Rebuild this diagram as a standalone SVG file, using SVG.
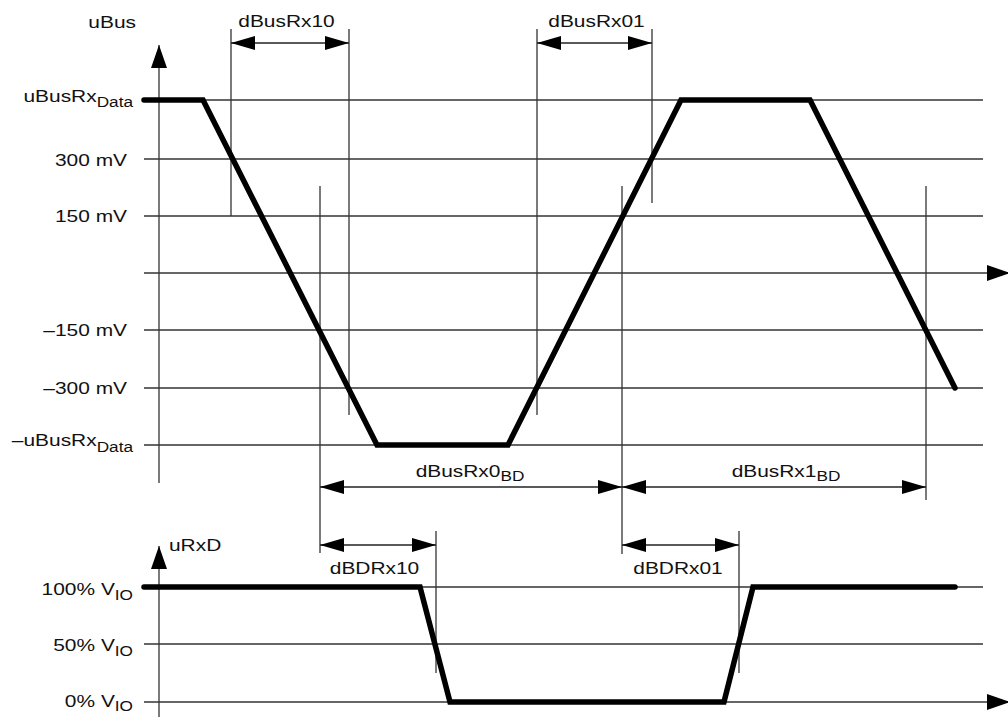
<svg xmlns="http://www.w3.org/2000/svg" width="1008" height="717" viewBox="0 0 1008 717">
<style>
.bg{fill:#ffffff}
.grid{stroke:#333333;stroke-width:1.3;fill:none}
.ax{stroke:#333333;stroke-width:1.3;fill:none}
.ref{stroke:#333333;stroke-width:1.3;fill:none}
.dim{stroke:#222222;stroke-width:1.3;fill:none;marker-start:url(#dimArrow);marker-end:url(#dimArrow)}
.wave{stroke:#000000;stroke-width:5.5;fill:none;stroke-linecap:round;stroke-linejoin:miter}
.t{font-family:"Liberation Sans",Arial,Helvetica,sans-serif;font-size:17px;fill:#111111}
.sub{font-size:14px}
</style>
<defs>
<marker id="dimArrow" viewBox="0 0 24 14" refX="24" refY="7" markerWidth="24" markerHeight="14" markerUnits="userSpaceOnUse" orient="auto-start-reverse">
<path d="M0,0 L24,7 L0,14 Z" fill="#000"/>
</marker>
<marker id="axArrow" viewBox="0 0 23 16" refX="23" refY="8" markerWidth="23" markerHeight="16" markerUnits="userSpaceOnUse" orient="auto">
<path d="M0,0 L23,8 L0,16 Z" fill="#000"/>
</marker>
</defs>
<rect class="bg" x="0" y="0" width="1008" height="717"/>

<g id="upper-grid">
<line class="grid" x1="144" y1="100" x2="983" y2="100"/>
<line class="grid" x1="144" y1="159" x2="983" y2="159"/>
<line class="grid" x1="144" y1="216" x2="983" y2="216"/>
<line class="grid" x1="144" y1="330" x2="983" y2="330"/>
<line class="grid" x1="144" y1="388" x2="983" y2="388"/>
<line class="grid" x1="144" y1="445" x2="983" y2="445"/>
</g>

<g id="upper-axes">
<line class="ax" x1="159" y1="483" x2="159" y2="45" marker-end="url(#axArrow)"/>
<line class="ax" x1="144" y1="273" x2="1010" y2="273" marker-end="url(#axArrow)"/>
</g>

<g id="lower-grid">
<line class="grid" x1="144" y1="587" x2="983" y2="587"/>
<line class="grid" x1="144" y1="644" x2="983" y2="644"/>
</g>

<g id="lower-axes">
<line class="ax" x1="159" y1="717" x2="159" y2="546" marker-end="url(#axArrow)"/>
<line class="ax" x1="144" y1="702" x2="1010" y2="702" marker-end="url(#axArrow)"/>
</g>

<g id="reference-lines">
<line class="ref" x1="231" y1="29" x2="231" y2="216"/>
<line class="ref" x1="349" y1="29" x2="349" y2="415"/>
<line class="ref" x1="537" y1="29" x2="537" y2="415"/>
<line class="ref" x1="652" y1="29" x2="652" y2="203"/>
<line class="ref" x1="320" y1="186" x2="320" y2="553"/>
<line class="ref" x1="622" y1="186" x2="622" y2="554"/>
<line class="ref" x1="926" y1="186" x2="926" y2="500"/>
<line class="ref" x1="436" y1="531" x2="436" y2="673"/>
<line class="ref" x1="739" y1="531" x2="739" y2="673"/>
</g>

<g id="waveform-uBus">
<polyline class="wave" points="144,100 203,100 377,445 508,445 681,100 810,100 955,388"/>
</g>

<g id="waveform-uRxD">
<polyline class="wave" points="144,587 420,587 450,702 724,702 753,587 955,587"/>
</g>

<g id="connectors">
<line id="c-dBusRx10" class="dim" x1="231" y1="43" x2="349" y2="43"/>
<line id="c-dBusRx01" class="dim" x1="537" y1="43" x2="652" y2="43"/>
<line id="c-dBusRx0BD" class="dim" x1="320" y1="487" x2="622" y2="487"/>
<line id="c-dBusRx1BD" class="dim" x1="622" y1="487" x2="926" y2="487"/>
<line id="c-dBDRx10" class="dim" x1="320" y1="545" x2="436" y2="545"/>
<line id="c-dBDRx01" class="dim" x1="622" y1="545" x2="739" y2="545"/>
</g>

<g id="labels">
<g id="lbl-uBus"><text class="t" text-anchor="end" transform="matrix(1.23 0 0 1 136 28)">uBus</text></g>
<g id="lbl-dBusRx10"><text class="t" text-anchor="middle" transform="matrix(1.23 0 0 1 286.5 27)">dBusRx10</text></g>
<g id="lbl-dBusRx01"><text class="t" text-anchor="middle" transform="matrix(1.23 0 0 1 596.5 27)">dBusRx01</text></g>
<g id="lbl-uBusRxData"><text class="t" text-anchor="end" transform="matrix(1.23 0 0 1 133 102)">uBusRx<tspan class="sub" dy="5">Data</tspan></text></g>
<g id="lbl-300"><text class="t" text-anchor="end" transform="matrix(1.23 0 0 1 127 165.5)">300 mV</text></g>
<g id="lbl-150"><text class="t" text-anchor="end" transform="matrix(1.23 0 0 1 127 222)">150 mV</text></g>
<g id="lbl-m150"><text class="t" text-anchor="end" transform="matrix(1.23 0 0 1 127 336)">–150 mV</text></g>
<g id="lbl-m300"><text class="t" text-anchor="end" transform="matrix(1.23 0 0 1 127 394)">–300 mV</text></g>
<g id="lbl-muBusRxData"><text class="t" text-anchor="end" transform="matrix(1.23 0 0 1 133 446)">–uBusRx<tspan class="sub" dy="6">Data</tspan></text></g>
<g id="lbl-dBusRx0BD"><text class="t" text-anchor="middle" transform="matrix(1.23 0 0 1 470 477)">dBusRx0<tspan class="sub" dy="4">BD</tspan></text></g>
<g id="lbl-dBusRx1BD"><text class="t" text-anchor="middle" transform="matrix(1.23 0 0 1 786 477)">dBusRx1<tspan class="sub" dy="4">BD</tspan></text></g>
<g id="lbl-uRxD"><text class="t" text-anchor="start" transform="matrix(1.23 0 0 1 169 551)">uRxD</text></g>
<g id="lbl-dBDRx10"><text class="t" text-anchor="middle" transform="matrix(1.23 0 0 1 374.5 574)">dBDRx10</text></g>
<g id="lbl-dBDRx01"><text class="t" text-anchor="middle" transform="matrix(1.23 0 0 1 678 574)">dBDRx01</text></g>
<g id="lbl-100"><text class="t" text-anchor="end" transform="matrix(1.23 0 0 1 133 595)">100% V<tspan class="sub" dy="5">IO</tspan></text></g>
<g id="lbl-50"><text class="t" text-anchor="end" transform="matrix(1.23 0 0 1 133 651)">50% V<tspan class="sub" dy="5">IO</tspan></text></g>
<g id="lbl-0"><text class="t" text-anchor="end" transform="matrix(1.23 0 0 1 133 707)">0% V<tspan class="sub" dy="4">IO</tspan></text></g>
</g>
</svg>
